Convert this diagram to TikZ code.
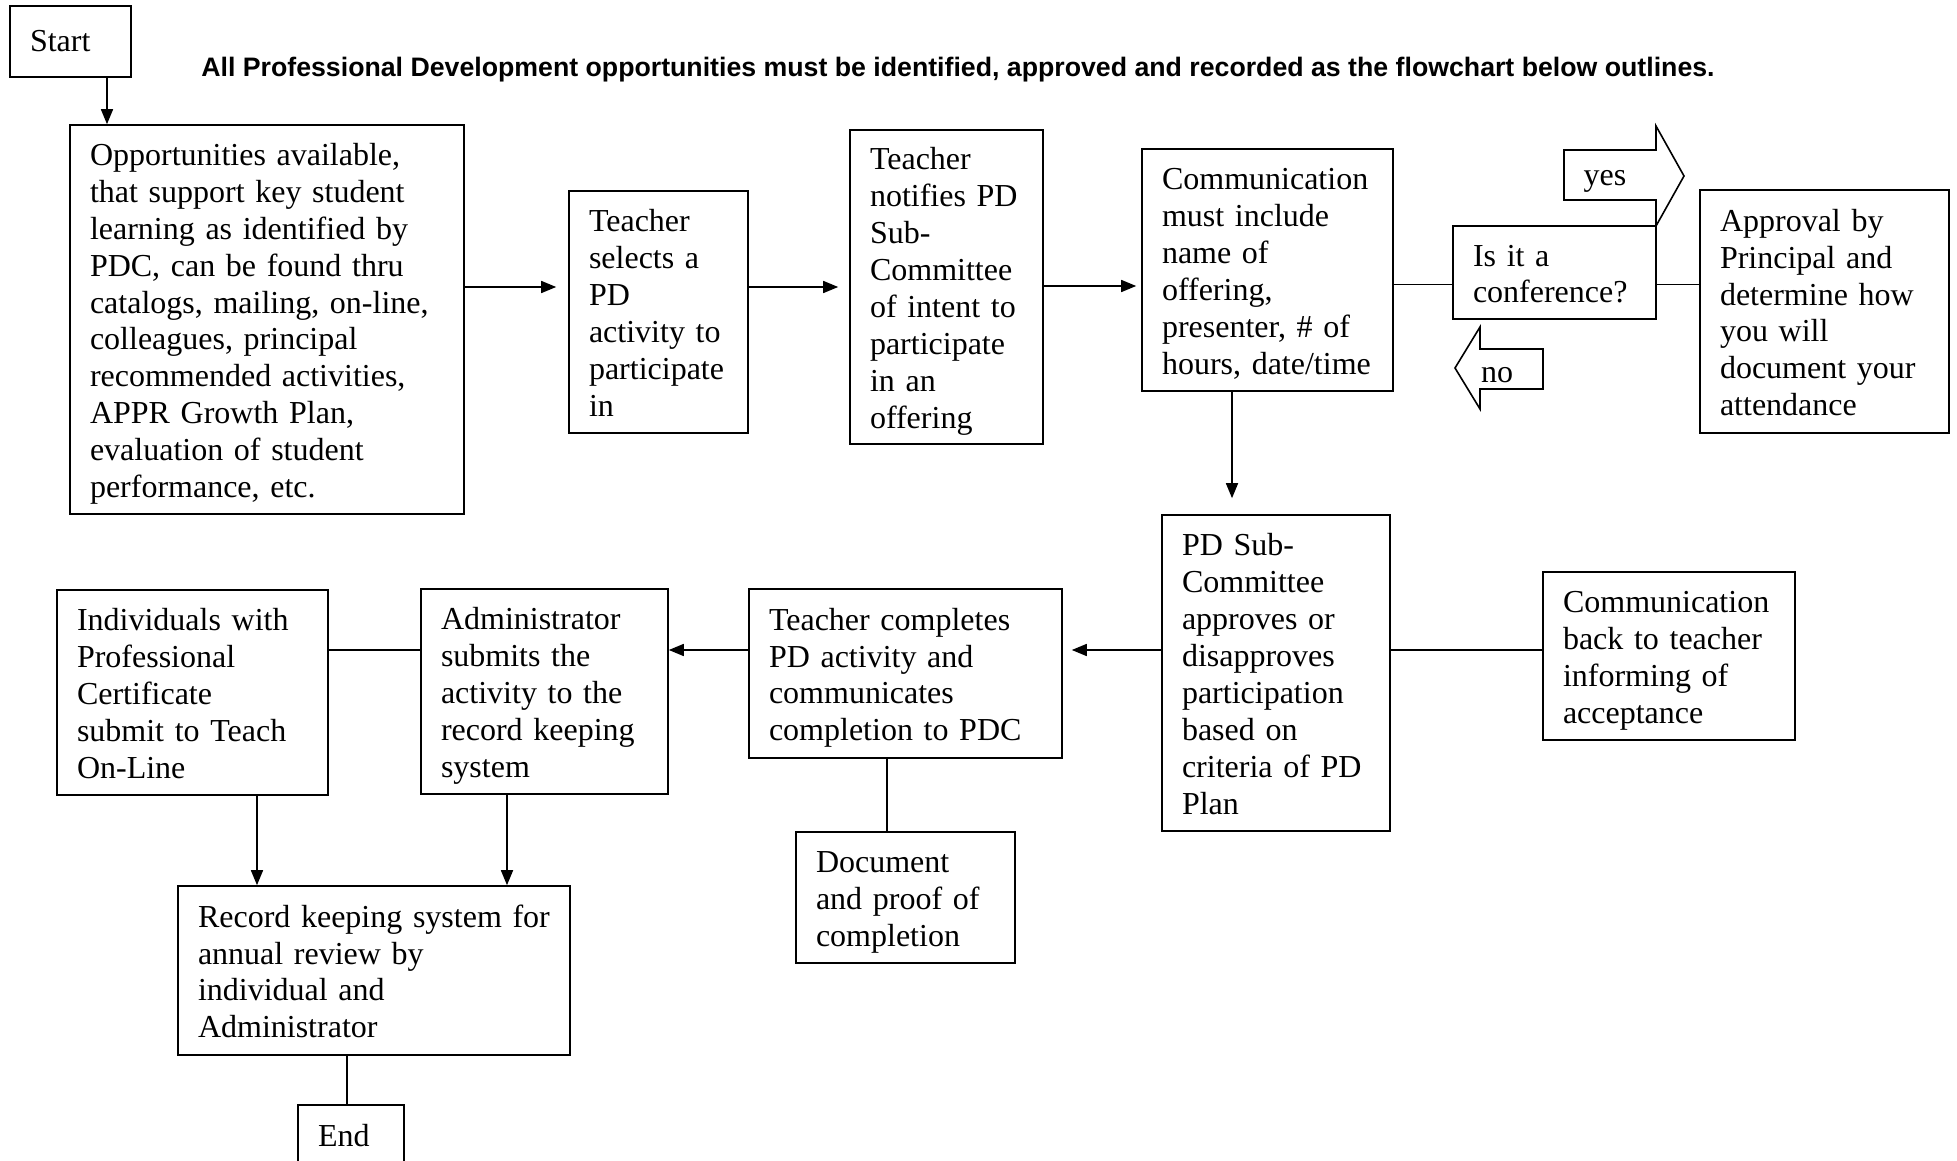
\documentclass[tikz,border=0pt]{standalone}
\usepackage{fontspec}
\setmainfont{Liberation Serif}
\newfontfamily\titlefont{Liberation Sans}
\usetikzlibrary{arrows.meta}
\begin{document}
\begin{tikzpicture}[x=1pt,y=-1pt,
  box/.style={draw, line width=1.6pt, align=left, inner xsep=20pt, inner ysep=0pt,
    font=\fontsize{32}{36.9}\selectfont, anchor=center},
  tbox/.style={box, execute at begin node={\rule{0pt}{32pt}}, execute at end node={\rule[-8pt]{0pt}{8pt}}},
  arr/.style={line width=1.6pt, -{Triangle[length=15pt,width=12pt]}},
  ln/.style={line width=1.6pt},
  blk/.style={draw, line width=1.6pt, line join=miter},
  lbl/.style={font=\fontsize{32}{36.9}\selectfont, inner sep=0pt}]
\useasboundingbox (0,0) rectangle (1957,1161);
\clip (0,0) rectangle (1957,1161);

\node[box, text width=81pt, minimum height=71pt] (start) at (70.5,41.5) {Start};
\node[font=\titlefont\bfseries\fontsize{26.7}{30}\selectfont, inner sep=0pt] (title) at (958,70)
  {All Professional Development opportunities must be identified, approved and recorded as the flowchart below outlines.};

\node[tbox, text width=354pt, minimum height=389pt] (opp) at (267,319.5)
  {Opportunities available,\\ that support key student\\ learning as identified by\\ PDC, can be found thru\\ catalogs, mailing, on-line,\\ colleagues, principal\\ recommended activities,\\ APPR Growth Plan,\\ evaluation of student\\ performance, etc.};
\node[tbox, text width=139pt, minimum height=242pt] (sel) at (658.5,312)
  {Teacher\\ selects a\\ PD\\ activity to\\ participate\\ in};
\node[tbox, text width=153pt, minimum height=314pt] (noti) at (946.5,287)
  {Teacher\\ notifies PD\\ Sub-\\ Committee\\ of intent to\\ participate\\ in an\\ offering};
\node[tbox, text width=211pt, minimum height=242pt] (comm) at (1267.5,270)
  {Communication\\ must include\\ name of\\ offering,\\ presenter, \# of\\ hours, date/time};
\node[tbox, text width=163pt, minimum height=93pt] (conf) at (1554.5,272.5)
  {Is it a\\ conference?};
\node[tbox, text width=209pt, minimum height=243pt] (appr) at (1824.5,311.5)
  {Approval by\\ Principal and\\ determine how\\ you will\\ document your\\ attendance};
\node[tbox, text width=188pt, minimum height=316pt] (pds) at (1276,673)
  {PD Sub-\\ Committee\\ approves or\\ disapproves\\ participation\\ based on\\ criteria of PD\\ Plan};
\node[tbox, text width=212pt, minimum height=168pt] (back) at (1669,656)
  {Communication\\ back to teacher\\ informing of\\ acceptance};
\node[tbox, text width=273pt, minimum height=169pt] (tc) at (905.5,673.5)
  {Teacher completes\\ PD activity and\\ communicates\\ completion to PDC};
\node[tbox, text width=179pt, minimum height=131pt] (doc) at (905.5,897.5)
  {Document\\ and proof of\\ completion};
\node[tbox, text width=207pt, minimum height=205pt] (adm) at (544.5,691.5)
  {Administrator\\ submits the\\ activity to the\\ record keeping\\ system};
\node[tbox, text width=231pt, minimum height=205pt] (ind) at (192.5,692.5)
  {Individuals with\\ Professional\\ Certificate\\ submit to Teach\\ On-Line};
\node[tbox, text width=352pt, minimum height=169pt] (rec) at (374,970.5)
  {Record keeping system for\\ annual review by\\ individual and\\ Administrator};
\node[box, text width=66pt, minimum height=62pt] (end) at (351,1136) {End};

% block arrows
\draw[blk] (1564,150) -- (1656,150) -- (1656,126) -- (1684,176) -- (1656,226) -- (1656,200) -- (1564,200) -- cycle;
\node[lbl] (yes) at (1605,181) {yes};
\draw[blk] (1543,349) -- (1480,349) -- (1480,327) -- (1455,368) -- (1480,409) -- (1480,389) -- (1543,389) -- cycle;
\node[lbl] (no) at (1497,375) {no};

% connectors
\draw[arr] (start.south -| 107,0) -- (opp.north -| 107,0);
\draw[arr, shorten >=12pt] (opp.east |- 0,287) -- (sel.west |- 0,287);
\draw[arr, shorten >=11pt] (sel.east |- 0,287) -- (noti.west |- 0,287);
\draw[arr, shorten >=5pt] (noti.east |- 0,286) -- (comm.west |- 0,286);
\draw[ln] (comm.east |- 0,284.5) -- (conf.west |- 0,284.5);
\draw[ln] (conf.east |- 0,284.5) -- (appr.west |- 0,284.5);
\draw[arr, shorten >=16pt] (comm.south -| 1232,0) -- (pds.north -| 1232,0);
\draw[ln] (pds.east |- 0,650) -- (back.west |- 0,650);
\draw[arr, shorten >=9pt] (pds.west |- 0,650) -- (tc.east |- 0,650);
\draw[ln] (tc.south -| 887,0) -- (doc.north -| 887,0);
\draw[arr] (tc.west |- 0,650) -- (adm.east |- 0,650);
\draw[ln] (adm.west |- 0,650) -- (ind.east |- 0,650);
\draw[arr] (ind.south -| 257,0) -- (rec.north -| 257,0);
\draw[arr] (adm.south -| 507,0) -- (rec.north -| 507,0);
\draw[ln] (rec.south -| 347,0) -- (end.north -| 347,0);
\end{tikzpicture}
\end{document}
